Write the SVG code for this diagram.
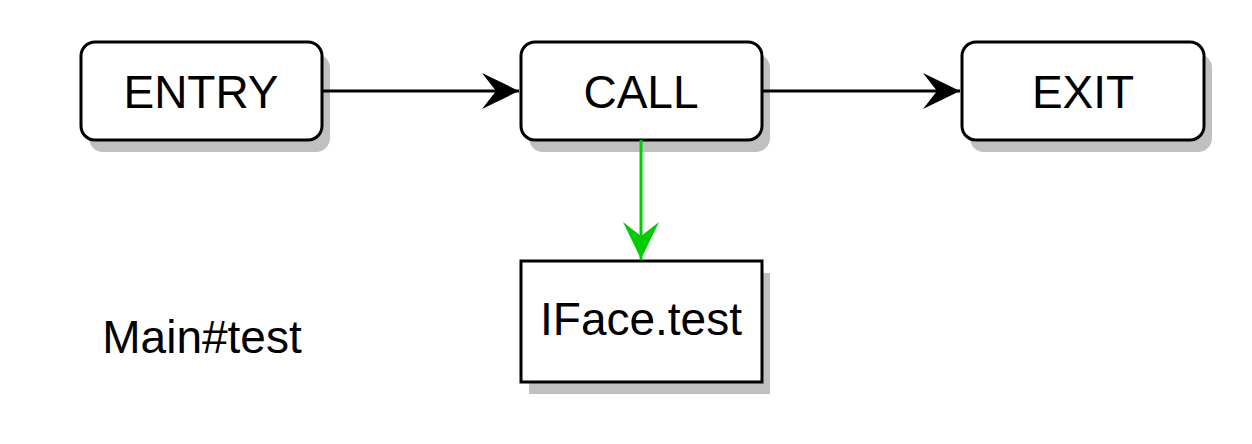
<svg xmlns="http://www.w3.org/2000/svg" width="1252" height="444" viewBox="0 0 1252 444">
<style>
.box{fill:#fff;stroke:#000;stroke-width:3}
.sh{fill:#c0c0c0}
.t{font-family:"Liberation Sans",Arial,sans-serif;font-size:46px;fill:#000;text-anchor:middle}
.e{stroke:#000;stroke-width:3;fill:none}
.g{stroke:#00cc00;stroke-width:3;fill:none}
</style>
<defs>
<marker id="ab" markerUnits="userSpaceOnUse" markerWidth="40" markerHeight="40" refX="37" refY="18" orient="auto" viewBox="0 0 40 36">
<path d="M0,0 L37,18 L0,36 L14,18 Z" fill="#000"/>
</marker>
<marker id="ag" markerUnits="userSpaceOnUse" markerWidth="40" markerHeight="40" refX="37" refY="18" orient="auto" viewBox="0 0 40 36">
<path d="M0,0 L37,18 L0,36 L14,18 Z" fill="#00cc00"/>
</marker>
</defs>
<rect width="1252" height="444" fill="#fff"/>
<g id="entry">
<rect class="sh" x="89" y="54" width="241" height="98" rx="14"/>
<rect class="box" x="81" y="42" width="241" height="98" rx="14"/>
<text class="t" x="201" y="108">ENTRY</text>
</g>
<g id="call">
<rect class="sh" x="529" y="54" width="241" height="98" rx="14"/>
<rect class="box" x="521" y="42" width="241" height="98" rx="14"/>
<text class="t" x="641" y="108">CALL</text>
</g>
<g id="exit">
<rect class="sh" x="970" y="54" width="242" height="98" rx="14"/>
<rect class="box" x="962" y="42" width="242" height="98" rx="14"/>
<text class="t" x="1083" y="108">EXIT</text>
</g>
<g id="iface">
<rect class="sh" x="529" y="273" width="241" height="121"/>
<rect class="box" x="521" y="261" width="241" height="121"/>
<text class="t" x="641" y="335">IFace.test</text>
</g>
<g id="label">
<text class="t" x="202" y="353">Main#test</text>
</g>
<g id="connectors">
<path class="e" d="M322,91 L519,91" marker-end="url(#ab)"/>
<path class="e" d="M762,91 L960,91" marker-end="url(#ab)"/>
<path class="g" d="M641,140 L641,259" marker-end="url(#ag)"/>
</g>
</svg>
